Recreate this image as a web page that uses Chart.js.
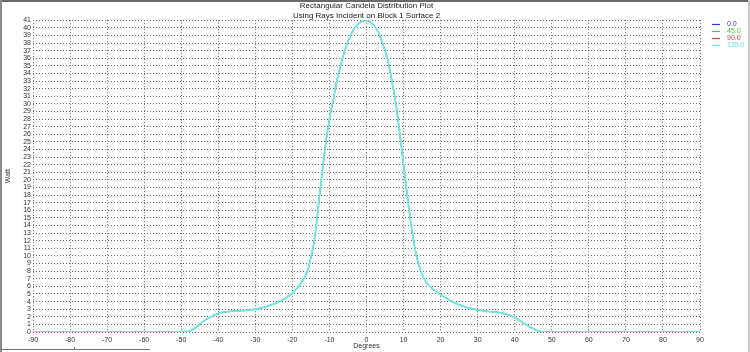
<!DOCTYPE html>
<html>
<head>
<meta charset="utf-8">
<script src="https://cdn.jsdelivr.net/npm/chart.js@4/dist/chart.umd.min.js"></script>
<style>
  html, body { margin:0; padding:0; background:#fff; overflow:hidden; }
  #wrap { position:relative; width:750px; height:352px; }
  canvas { position:absolute; left:0; top:0; }
  .b { position:absolute; }
</style>
</head>
<body>
<div id="wrap">
  <canvas id="c" width="750" height="352"></canvas>
  <div class="b" style="left:0;top:0;width:750px;height:2px;background:#6a6a6a"></div>
  <div class="b" style="left:0;top:0;width:2px;height:352px;background:#8a8a8a"></div>
  <div class="b" style="left:748px;top:0;width:2px;height:352px;background:#c8c8c8"></div>
  <div class="b" style="left:0;top:349px;width:150px;height:1px;background:#777"></div>
  <div class="b" style="left:74px;top:347px;width:1px;height:3px;background:#777"></div>
</div>
<script>
const titleLines = ['Rectangular Candela Distribution Plot', 'Using Rays Incident on Block 1 Surface 2'];
const seriesNames = ['0.0', '45.0', '90.0', '135.0'];
const seriesColors = ['#3a3ad0', '#44d044', '#d84040', '#6ee8e0'];
const xTicks = [-90, -80, -70, -60, -50, -40, -30, -20, -10, 0, 10, 20, 30, 40, 50, 60, 70, 80, 90];
const yMax = 41;
const degrees = [-90, -50, -48, -46, -44, -42, -40, -38, -36, -34, -32, -30, -28, -26, -24, -22, -20, -18, -16, -15, -14, -13, -12, -11, -10, -9, -8, -7, -6, -5, -4, -3, -2, -1, 0, 1, 2, 3, 4, 5, 6, 7, 8, 9, 10, 11, 12, 13, 14, 15, 16, 18, 20, 22, 24, 26, 28, 30, 32, 34, 36, 38, 40, 42, 44, 46, 48, 90];
const watt = [0, 0, 0.1, 0.6, 1.4, 2.0, 2.45, 2.65, 2.75, 2.8, 2.85, 3.0, 3.2, 3.5, 3.9, 4.4, 5.1, 6.2, 8.0, 9.8, 12.3, 16.5, 20.8, 24.8, 28.0, 30.5, 33.0, 35.0, 36.8, 38.2, 39.3, 40.1, 40.6, 40.9, 41.0, 40.8, 40.3, 39.6, 38.4, 37.0, 35.2, 32.6, 29.8, 26.0, 22.0, 18.0, 14.2, 11.2, 9.0, 7.6, 6.6, 5.6, 4.9, 4.3, 3.8, 3.4, 3.1, 2.9, 2.75, 2.65, 2.55, 2.3, 1.9, 1.3, 0.7, 0.2, 0, 0];

const pts = degrees.map((d, i) => ({x: d, y: watt[i]}));
const lastIdx = seriesNames.length - 1;
const datasets = seriesNames.map((n, i) => ({
  label: n,
  data: pts,
  borderColor: seriesColors[i],
  backgroundColor: seriesColors[i],
  borderWidth: i === lastIdx ? 1.8 : 0.8,
  pointRadius: 0,
  cubicInterpolationMode: 'monotone',
  order: seriesNames.length - i
}));

const FONT = 'Liberation Sans';
const legendPlugin = {
  id: 'sideLegend',
  afterDraw(chart) {
    const ctx = chart.ctx;
    ctx.save();
    ctx.font = '7px "' + FONT + '"';
    ctx.textBaseline = 'middle';
    ctx.textAlign = 'left';
    chart.data.datasets.forEach((ds, i) => {
      const y = 24 + i * 7;
      ctx.strokeStyle = ds.borderColor;
      ctx.lineWidth = 1.2;
      ctx.beginPath();
      ctx.moveTo(712, y + 0.5);
      ctx.lineTo(720, y + 0.5);
      ctx.stroke();
      ctx.fillStyle = ds.borderColor;
      ctx.fillText(ds.label, 727, y);
    });
    ctx.restore();
  }
};

const gridCol = '#6a6a6a';
new Chart(document.getElementById('c'), {
  type: 'line',
  data: { datasets },
  options: {
    responsive: false,
    animation: false,
    layout: { padding: { left: 4, right: 50, top: 0, bottom: 2 } },
    plugins: {
      title: {
        display: true, text: titleLines, fullSize: false,
        color: '#222', font: { family: FONT, size: 8, weight: 'normal' },
        padding: { top: 1, bottom: 0 }
      },
      legend: { display: false },
      tooltip: { enabled: false }
    },
    scales: {
      x: {
        type: 'linear', min: -90, max: 90,
        afterBuildTicks: s => { s.ticks = xTicks.map(v => ({value: v})); },
        afterFit: s => { s.height = 18; },
        grid: { color: gridCol, lineWidth: 1, drawTicks: false },
        border: { display: false, dash: [1, 2] },
        ticks: { color: '#333', font: { family: FONT, size: 7 }, padding: 4, maxRotation: 0, autoSkip: false },
        title: { display: true, text: 'Degrees', color: '#333', font: { family: FONT, size: 7 }, padding: { top: 0, bottom: 0 } }
      },
      y: {
        min: 0, max: yMax,
        afterBuildTicks: s => { const t = []; for (let v = 0; v <= yMax; v++) t.push({value: v}); s.ticks = t; },
        afterFit: s => { s.width = 29; },
        grid: { color: gridCol, lineWidth: 1, drawTicks: false },
        border: { display: false, dash: [1, 2] },
        ticks: { color: '#333', font: { family: FONT, size: 7 }, padding: 2, autoSkip: false },
        title: { display: true, text: 'Watt', color: '#333', font: { family: FONT, size: 7 }, padding: { top: 0, bottom: 0 } }
      }
    }
  },
  plugins: [legendPlugin]
});
</script>
</body>
</html>
